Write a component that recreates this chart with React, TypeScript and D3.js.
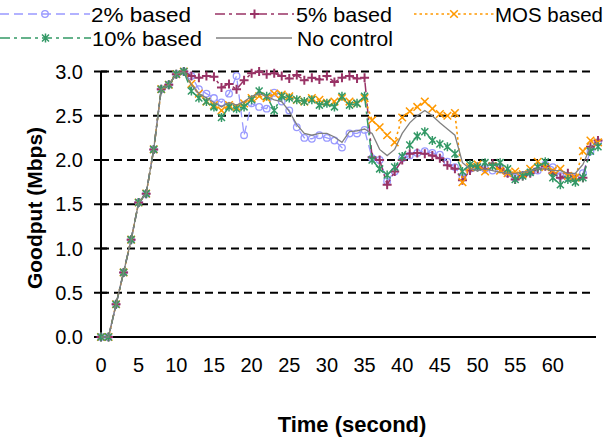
import React from 'react';
import * as d3 from 'd3';

const seconds = [0,1,2,3,4,5,6,7,8,9,10,11,12,13,14,15,16,17,18,19,20,21,22,23,24,25,26,27,28,29,30,31,32,33,34,35,36,37,38,39,40,41,42,43,44,45,46,47,48,49,50,51,52,53,54,55,56,57,58,59,60,61,62,63,64,65,66];

const based2 = [0,0,0.37,0.73,1.1,1.52,1.62,2.12,2.8,2.85,2.97,3.0,
  2.95,2.8,2.75,2.7,2.65,2.75,2.95,2.28,2.64,2.6,2.58,2.76,2.66,2.56,2.37,2.25,2.24,2.28,2.25,2.22,2.14,2.3,2.3,2.34,
  2.02,2.0,1.76,1.87,2.02,2.05,2.08,2.1,2.08,2.06,1.98,1.92,1.8,1.9,1.92,1.9,1.88,1.9,1.85,1.8,1.83,1.86,1.88,1.95,1.92,1.82,1.8,1.8,1.85,2.1,2.2];

const based5 = [0,0,0.37,0.73,1.1,1.52,1.62,2.12,2.8,2.85,2.97,3.0,
  2.95,2.93,2.95,2.94,2.82,2.86,2.8,2.9,2.98,3.0,2.97,2.98,2.95,2.92,2.96,2.9,2.93,2.91,2.95,2.88,2.93,2.95,2.92,2.93,
  2.03,2.0,1.72,1.87,2.0,2.07,2.08,2.07,2.05,2.02,1.94,1.9,1.77,1.88,1.92,1.9,1.96,1.9,1.85,1.78,1.82,1.85,1.9,1.93,1.85,1.8,1.85,1.78,1.8,2.15,2.22];

const basedMOS = [0,0,0.37,0.73,1.1,1.52,1.62,2.12,2.8,2.85,2.97,3.0,
  2.86,2.75,2.66,2.62,2.56,2.62,2.6,2.64,2.7,2.72,2.7,2.75,2.74,2.72,2.68,2.66,2.7,2.68,2.65,2.66,2.7,2.66,2.64,2.7,
  2.45,2.37,2.28,2.2,2.48,2.55,2.6,2.66,2.58,2.52,2.5,2.53,1.75,1.92,1.95,1.87,1.93,1.88,1.85,1.87,1.84,1.9,1.98,1.92,1.88,1.9,1.82,1.8,2.1,2.22,2.2];

const based10 = [0,0,0.37,0.73,1.1,1.52,1.62,2.12,2.8,2.85,2.97,3.0,
  2.78,2.7,2.66,2.6,2.48,2.6,2.58,2.6,2.68,2.78,2.72,2.56,2.72,2.7,2.68,2.66,2.68,2.62,2.64,2.6,2.72,2.62,2.64,2.72,
  2.0,1.9,1.83,1.92,2.04,2.17,2.27,2.32,2.22,2.18,2.15,2.07,1.87,1.95,1.92,1.97,1.93,1.97,1.9,1.78,1.82,1.86,1.92,1.98,1.8,1.72,1.78,1.75,1.8,2.1,2.15];

const noControl = [0,0,0.37,0.73,1.1,1.52,1.62,2.12,2.8,2.85,2.97,3.0,
  2.85,2.75,2.7,2.65,2.6,2.65,2.62,2.66,2.72,2.75,2.72,2.68,2.66,2.55,2.4,2.3,2.28,2.3,2.3,2.26,2.2,2.32,2.33,2.35,
  2.3,2.12,2.05,2.12,2.3,2.42,2.5,2.56,2.5,2.42,2.35,2.28,1.97,1.9,1.88,1.9,1.88,1.86,1.85,1.85,1.86,1.88,1.9,1.9,1.88,1.88,1.85,1.85,1.95,2.15,2.2];

const seriesNames = ['2% based', '5% based', 'MOS based', '10% based', 'No control'];
const xTicks = [0,5,10,15,20,25,30,35,40,45,50,55,60];
const yTicks = [0,0.5,1.0,1.5,2.0,2.5,3.0];

const styles = [
  { color: '#9999FF', dash: '9,5', marker: 'circle', width: 1.3 },
  { color: '#993366', dash: '10,4,3,4', marker: 'plus', width: 1.5 },
  { color: '#FF9900', dash: '2.5,3', marker: 'cross', width: 1.6 },
  { color: '#339966', dash: '10,4,3,4', marker: 'star', width: 1.5 },
  { color: '#808080', dash: null, marker: null, width: 1.3 },
];

const FONT = '"Liberation Sans", Arial, sans-serif';

function Marker({ kind, color, x, y }: { kind: string | null; color: string; x: number; y: number }) {
  if (!kind) return null;
  if (kind === 'circle') return <circle cx={x} cy={y} r={3.3} fill="none" stroke={color} strokeWidth={1.3} />;
  let d = '';
  if (kind === 'plus') d = 'M-4.5,0H4.5M0,-4.5V4.5';
  if (kind === 'cross') d = 'M-3.8,-3.8L3.8,3.8M-3.8,3.8L3.8,-3.8';
  if (kind === 'star') d = 'M-3.5,-3.5L3.5,3.5M-3.5,3.5L3.5,-3.5M0,-4.5V4.5';
  return <path d={d} transform={`translate(${x},${y})`} stroke={color} strokeWidth={kind === 'plus' ? 2 : 1.5} fill="none" />;
}

export default function App() {
  const data = [based2, based5, basedMOS, based10, noControl];
  const x = d3.scaleLinear().domain([0, 66]).range([101, 598]);
  const y = d3.scaleLinear().domain([0, 3]).range([337, 71.5]);
  const line = d3.line<number>().x((_, i) => x(seconds[i])).y((d) => y(d));

  const legendItems = [
    { i: 0, x0: 0, x1: 90, ty: 14, tx: 91, w: 100 },
    { i: 1, x0: 215, x1: 294, ty: 14, tx: 296, w: 96 },
    { i: 2, x0: 414, x1: 494, ty: 14, tx: 495, w: 108 },
    { i: 3, x0: 0, x1: 91, ty: 38, tx: 92, w: 110 },
    { i: 4, x0: 216, x1: 292, ty: 38, tx: 297, w: 96 },
  ];

  return (
    <svg width={607} height={438} style={{ position: 'absolute', left: 0, top: 0, background: '#fff' }} fontFamily={FONT}>
      <rect width={607} height={438} fill="#fff" />
      {yTicks.filter((t) => t > 0).map((t) => (
        <line key={t} x1={101} x2={595} y1={y(t)} y2={y(t)} stroke="#000" strokeWidth={1.8} strokeDasharray="8,5" />
      ))}
      <line x1={101} x2={101} y1={y(3)} y2={y(0)} stroke="#000" strokeWidth={2} />
      <line x1={101} x2={596} y1={y(0)} y2={y(0)} stroke="#000" strokeWidth={2} />
      {yTicks.map((t) => (
        <g key={t}>
          <line x1={94} x2={107} y1={y(t)} y2={y(t)} stroke="#000" strokeWidth={2} />
          <text x={83} y={y(t)} dy="0.35em" textAnchor="end" fontSize={20} fill="#000">{t.toFixed(1)}</text>
        </g>
      ))}
      {xTicks.map((t) => (
        <text key={t} x={x(t)} y={372} textAnchor="middle" fontSize={20} fill="#000">{t}</text>
      ))}
      <text x={352} y={432} textAnchor="middle" fontSize={22} fontWeight="bold" fill="#000">Time (second)</text>
      <text transform={`translate(42,208) rotate(-90)`} textAnchor="middle" fontSize={21} fontWeight="bold" fill="#000">Goodput (Mbps)</text>
      {data.map((vals, si) => (
        <g key={si}>
          <path d={line(vals) || ''} fill="none" stroke={styles[si].color} strokeWidth={styles[si].width}
            strokeDasharray={styles[si].dash || undefined} />
          {vals.map((v, i) => (
            <Marker key={i} kind={styles[si].marker} color={styles[si].color} x={x(seconds[i])} y={y(v)} />
          ))}
        </g>
      ))}
      {legendItems.map((it) => {
        const s = styles[it.i];
        return (
          <g key={it.i}>
            <line x1={it.x0} x2={it.x1} y1={it.ty} y2={it.ty} stroke={s.color} strokeWidth={s.width} strokeDasharray={s.dash || undefined} />
            <Marker kind={s.marker} color={s.color} x={(it.x0 + it.x1) / 2} y={it.ty} />
            <text x={it.tx} y={it.ty} dy="0.36em" fontSize={21} textLength={it.w} lengthAdjust="spacingAndGlyphs" fill="#000">{seriesNames[it.i]}</text>
          </g>
        );
      })}
    </svg>
  );
}
